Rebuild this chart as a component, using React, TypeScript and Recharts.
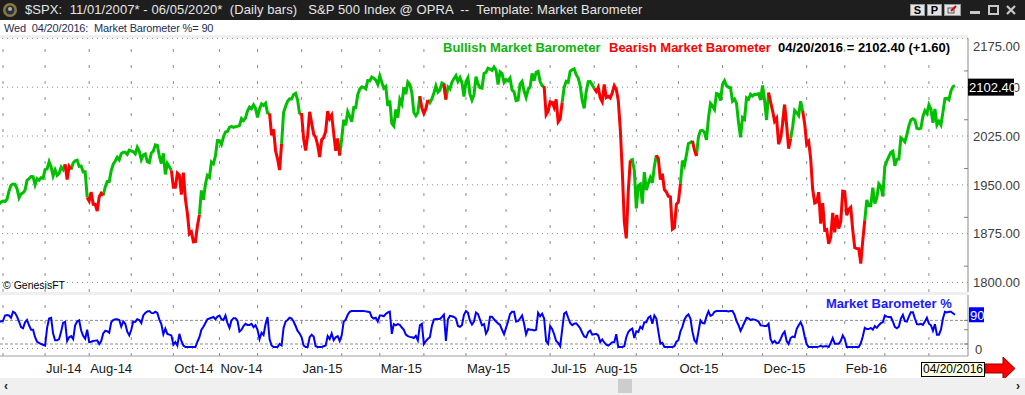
import React from 'react';
import { LineChart, Line, XAxis, YAxis, ReferenceLine } from 'recharts';

// trading months shown on the chart (first one is only the last two days of May 2014)
const months = [
  'May-14', 'Jun-14', 'Jul-14', 'Aug-14', 'Sep-14', 'Oct-14', 'Nov-14', 'Dec-14',
  'Jan-15', 'Feb-15', 'Mar-15', 'Apr-15', 'May-15', 'Jun-15', 'Jul-15', 'Aug-15',
  'Sep-15', 'Oct-15', 'Nov-15', 'Dec-15', 'Jan-16', 'Feb-16', 'Mar-16', 'Apr-16',
];

// $SPX daily closes, one list per month
const closes: number[][] = [
  [1920.03, 1923.57],
  [1924.97, 1924.24, 1927.88, 1940.46, 1949.44, 1951.27, 1950.79, 1943.89, 1930.11, 1936.16, 1937.78, 1941.99, 1956.98, 1959.48, 1962.87, 1962.61, 1949.98, 1959.53, 1957.22, 1960.96, 1960.23],
  [1973.32, 1974.62, 1985.44, 1977.65, 1963.71, 1972.83, 1964.68, 1967.57, 1977.1, 1973.28, 1981.57, 1958.12, 1978.22, 1973.63, 1983.53, 1987.01, 1987.98, 1978.34, 1978.91, 1969.95, 1970.07, 1930.67],
  [1925.15, 1938.99, 1920.21, 1920.24, 1909.57, 1931.59, 1936.92, 1933.75, 1946.72, 1955.18, 1955.06, 1971.74, 1981.6, 1986.51, 1992.37, 1988.4, 1997.92, 2000.02, 2000.12, 1996.74, 2003.37],
  [2002.28, 2000.72, 1997.65, 2007.71, 2001.54, 1988.44, 1995.69, 1997.45, 1985.54, 1984.13, 1998.98, 2001.57, 2011.36, 2010.4, 1994.29, 1982.77, 1998.3, 1965.99, 1982.85, 1977.8, 1972.29],
  [1946.16, 1946.17, 1967.9, 1964.82, 1935.1, 1968.89, 1928.21, 1906.13, 1874.74, 1877.7, 1862.49, 1862.76, 1886.76, 1904.01, 1941.28, 1927.11, 1950.82, 1964.58, 1961.63, 1985.05, 1982.3, 1994.65, 2018.05],
  [2017.81, 2012.1, 2023.57, 2031.21, 2031.92, 2038.26, 2039.68, 2038.25, 2039.33, 2039.82, 2041.32, 2051.8, 2048.72, 2052.75, 2063.5, 2069.41, 2067.03, 2072.83, 2067.56],
  [2053.44, 2066.55, 2074.33, 2071.92, 2075.37, 2060.31, 2059.82, 2026.14, 2035.33, 2002.33, 1989.63, 1972.74, 2012.89, 2061.23, 2070.65, 2078.54, 2082.17, 2081.88, 2088.77, 2090.57, 2080.35, 2058.9],
  [2058.2, 2020.58, 2002.61, 2025.9, 2062.14, 2044.81, 2028.26, 2023.03, 2011.27, 1992.67, 2019.42, 2022.55, 2032.12, 2063.15, 2051.82, 2057.09, 2029.55, 2002.16, 2021.25, 1994.99],
  [2020.85, 2050.03, 2041.51, 2062.52, 2055.47, 2046.74, 2068.59, 2068.53, 2088.48, 2096.99, 2100.34, 2099.68, 2097.45, 2110.3, 2109.66, 2115.48, 2113.86, 2110.74, 2104.5],
  [2117.39, 2107.78, 2098.53, 2101.04, 2071.26, 2079.43, 2044.16, 2040.24, 2065.95, 2053.4, 2081.19, 2074.28, 2099.5, 2089.27, 2108.1, 2104.42, 2091.5, 2061.05, 2056.15, 2061.02, 2086.24, 2067.89],
  [2059.69, 2066.96, 2080.62, 2076.33, 2081.9, 2091.18, 2102.06, 2092.43, 2095.84, 2106.63, 2104.99, 2081.18, 2100.4, 2097.29, 2107.96, 2112.93, 2117.69, 2108.92, 2114.76, 2106.85, 2085.51],
  [2108.29, 2114.49, 2089.46, 2080.15, 2088.0, 2116.1, 2105.33, 2099.12, 2098.48, 2121.1, 2122.73, 2129.2, 2127.83, 2125.85, 2130.82, 2126.06, 2104.2, 2123.48, 2120.79, 2107.39],
  [2111.73, 2109.6, 2114.07, 2095.84, 2092.83, 2079.28, 2080.15, 2105.2, 2108.86, 2094.11, 2084.43, 2096.29, 2100.44, 2121.24, 2109.99, 2122.85, 2124.2, 2108.58, 2102.31, 2101.49, 2057.64, 2063.11],
  [2077.42, 2076.78, 2068.76, 2081.34, 2046.68, 2051.31, 2076.62, 2099.6, 2108.95, 2107.4, 2124.29, 2126.64, 2128.28, 2119.21, 2114.15, 2102.15, 2079.65, 2067.64, 2093.25, 2108.57, 2108.63, 2103.84],
  [2098.04, 2093.32, 2099.84, 2083.56, 2077.57, 2104.18, 2084.07, 2086.05, 2083.39, 2091.54, 2102.44, 2096.92, 2079.61, 2035.73, 1970.89, 1893.21, 1867.61, 1940.51, 1987.66, 1988.87, 1972.18],
  [1913.85, 1948.86, 1951.13, 1921.22, 1969.41, 1942.04, 1952.29, 1961.05, 1953.03, 1978.09, 1995.31, 1990.2, 1958.03, 1966.97, 1942.74, 1938.76, 1932.24, 1931.34, 1881.77, 1884.09, 1920.03],
  [1923.82, 1951.36, 1987.05, 1979.92, 1995.83, 2013.43, 2014.89, 2017.46, 2003.69, 1994.24, 2023.86, 2033.11, 2033.66, 2030.77, 2018.94, 2052.51, 2075.15, 2071.18, 2065.89, 2090.35, 2089.41, 2079.36],
  [2104.05, 2109.79, 2102.31, 2099.93, 2099.2, 2078.58, 2081.72, 2075.0, 2045.97, 2023.04, 2053.19, 2050.44, 2083.58, 2081.24, 2089.17, 2086.59, 2089.14, 2088.87, 2090.11, 2080.41],
  [2102.63, 2079.51, 2049.62, 2091.69, 2077.07, 2063.59, 2047.62, 2052.23, 2012.37, 2021.94, 2043.41, 2073.07, 2041.89, 2005.55, 2021.15, 2038.97, 2064.29, 2060.99, 2056.5, 2078.36, 2063.36, 2043.94],
  [2012.66, 2016.71, 1990.26, 1943.09, 1922.03, 1923.67, 1938.68, 1890.28, 1921.84, 1880.33, 1881.33, 1859.33, 1868.99, 1906.9, 1877.08, 1903.63, 1882.95, 1893.36, 1940.24],
  [1939.38, 1903.03, 1912.53, 1915.45, 1880.05, 1853.44, 1852.21, 1851.86, 1829.08, 1864.78, 1895.58, 1926.82, 1917.83, 1917.78, 1945.5, 1921.27, 1929.8, 1951.7, 1948.05, 1932.23],
  [1978.35, 1986.45, 1993.4, 1999.99, 2001.76, 1979.26, 1989.26, 1989.57, 2022.19, 2019.64, 2015.93, 2027.22, 2040.59, 2049.58, 2051.6, 2049.8, 2036.71, 2035.94, 2037.05, 2055.01, 2063.95, 2059.74],
  [2072.78, 2066.13, 2045.17, 2066.66, 2041.91, 2047.6, 2041.99, 2061.72, 2082.42, 2082.78, 2080.73, 2094.34, 2100.8, 2102.4],
];

// G = bullish barometer, R = bearish barometer (colours the segment ending on that day)
const regimes = [
  'GG',
  'GGGGGGGGGGGGGGGGGGGGG',
  'GGGGGGGGGGGRRRGGGGGGGG',
  'RRRRRRRRGGGGGGGGGGGGG',
  'GGGGGGGGGGGGGGGGGGGGG',
  'RRRRRRRRRRRRRRGGGGGGGGG',
  'GGGGGGGGGGGGGGGGGGG',
  'GGGGGGGRRRRRRGGGGGGGGG',
  'RRRRRRRRRRRRRRRRRRRR',
  'GGGGGGGGGGGGGGGGGGG',
  'GGGGGGGGGGGGGGGGGGGGGR',
  'RRRGGGGGGGGRGGGGGGGGG',
  'GGGGGGGGGGGGGGGGGGGG',
  'GGGGGGGGGGGGGGGGGGGGRR',
  'RRRRRRRGGGGGGGGGGGGGGG',
  'GRRRRRRRRRRRRRRRRRRGG',
  'GGGGGGGGGGGRRRRRRRRRR',
  'RRGGGGGGRRGGGGGGGGGGGG',
  'GGGGGGGGGGGGGGGGGGGG',
  'GGGGRRRRRRRGRRRGGGGGGR',
  'RRRRRRRRRRRRRRRRRRR',
  'RRRRRRRRRRRGGGGGGGGG',
  'GGGGGGGGGGGGGGGGGGGGGG',
  'GGGGGGGGGGGGGG',
];

// Market Barometer % per day
const barometer: number[][] = [
  [72, 72],
  [74, 88, 89, 88, 82, 98, 95, 85, 72, 57, 54, 70, 76, 62, 50, 50, 30, 18, 15, 12, 10],
  [8, 55, 80, 82, 40, 22, 22, 25, 45, 69, 71, 20, 30, 33, 25, 62, 72, 75, 48, 34, 26, 50],
  [17, 18, 20, 21, 22, 12, 20, 40, 47, 46, 42, 70, 76, 78, 78, 76, 58, 72, 66, 45, 35],
  [50, 72, 71, 78, 76, 68, 88, 95, 99, 100, 95, 94, 98, 95, 77, 65, 38, 53, 39, 37, 35],
  [10, 17, 8, 39, 20, 8, 4, 4, 4, 4, 4, 4, 18, 30, 50, 58, 68, 78, 80, 82, 84, 78, 85],
  [88, 78, 76, 88, 68, 55, 75, 81, 81, 74, 45, 50, 60, 66, 63, 63, 66, 57, 62],
  [50, 25, 42, 36, 65, 84, 25, 8, 4, 4, 4, 12, 8, 55, 72, 76, 82, 80, 72, 60, 47, 40],
  [30, 8, 4, 4, 30, 37, 32, 6, 4, 4, 4, 6, 8, 33, 25, 40, 22, 30, 33, 20],
  [35, 72, 77, 90, 98, 100, 100, 100, 100, 100, 100, 100, 99, 98, 97, 84, 80, 82, 72],
  [88, 88, 86, 92, 96, 98, 39, 65, 62, 65, 63, 56, 50, 37, 33, 31, 30, 28, 34, 22, 62, 66],
  [12, 20, 26, 30, 60, 77, 79, 79, 79, 84, 90, 20, 78, 87, 86, 84, 80, 60, 58, 62, 90],
  [100, 95, 74, 64, 72, 96, 92, 77, 62, 65, 40, 50, 85, 85, 78, 72, 67, 63, 50, 38],
  [55, 72, 92, 98, 98, 72, 73, 80, 88, 66, 38, 52, 50, 50, 48, 50, 95, 86, 93, 80, 20, 13],
  [60, 52, 38, 20, 15, 6, 50, 93, 97, 82, 68, 62, 66, 67, 61, 54, 42, 32, 30, 44, 48, 37],
  [38, 39, 35, 17, 24, 16, 10, 8, 12, 17, 17, 38, 4, 4, 4, 6, 30, 44, 50, 53, 28],
  [46, 44, 58, 53, 70, 70, 82, 86, 66, 88, 80, 45, 13, 15, 4, 4, 4, 4, 4, 6, 18],
  [22, 45, 58, 77, 86, 91, 80, 45, 22, 15, 44, 75, 68, 67, 85, 99, 87, 90, 98, 100, 100, 100],
  [100, 100, 100, 99, 100, 100, 90, 73, 62, 47, 58, 70, 82, 80, 76, 78, 77, 75, 72, 62],
  [61, 60, 60, 66, 25, 15, 20, 14, 15, 25, 38, 45, 20, 12, 28, 32, 30, 52, 62, 70, 58, 32],
  [12, 4, 4, 4, 4, 4, 5, 7, 5, 6, 6, 4, 15, 28, 13, 13, 13, 20, 35],
  [25, 4, 4, 4, 4, 4, 4, 4, 14, 32, 55, 52, 52, 55, 50, 60, 55, 62, 68, 70],
  [88, 85, 84, 84, 72, 58, 54, 58, 80, 90, 73, 72, 85, 97, 97, 80, 65, 64, 66, 63, 72, 82],
  [66, 62, 47, 65, 37, 37, 50, 80, 98, 96, 98, 98, 94, 90],
];

const axisLabels = ['Jul-14', 'Aug-14', 'Oct-14', 'Nov-14', 'Jan-15', 'Mar-15', 'May-15', 'Jul-15', 'Aug-15', 'Oct-15', 'Dec-15', 'Feb-16'];
const priceTicks = [1800, 1875, 1950, 2025, 2100, 2175];
const priceMinorTicks = [1825, 1900, 1975, 2050, 2125];
const baroLabelTicks = [0];
const baroMinorTicks = [12, 50, 75];
const baroLevels = [12, 75];
const lastDate = '04/20/2016';
const lastDay = 'Wed';

type Row = { i: number; close: number; baro: number; reg: string; bull: number | null; bear: number | null };

const rows: Row[] = [];
const monthStart: number[] = [];
closes.forEach((list, m) => {
  monthStart.push(rows.length);
  list.forEach((c, d) => {
    rows.push({ i: rows.length, close: c, baro: barometer[m][d], reg: regimes[m][d], bull: null, bear: null });
  });
});
rows.forEach((r, j) => {
  const next = rows[j + 1]?.reg;
  r.bull = r.reg === 'G' || next === 'G' ? r.close : null;
  r.bear = r.reg === 'R' || next === 'R' ? r.close : null;
});
const last = rows[rows.length - 1];
const prev = rows[rows.length - 2];
const gridMonths = monthStart.slice(1);
const labelTicks = monthStart.filter((_, m) => axisLabels.includes(months[m]));

const FONT = '"Liberation Sans", Arial, sans-serif';
const X_DOMAIN: [number, number] = [0.5, 483.5];

const PriceTick = (props: any) => {
  const { x, y, payload } = props;
  const v = payload.value;
  if (v === last.close) {
    return (
      <g>
        <rect x={x - 5} y={y - 7} width={46} height={17} fill="#000" />
        <text x={x - 4} y={y + 6.5} fill="#fff" fontSize={13} fontFamily={FONT}>{v.toFixed(2)}</text>
      </g>
    );
  }
  if (priceMinorTicks.includes(v)) {
    return <line x1={x - 9} x2={x - 5} y1={y} y2={y} stroke="#808080" />;
  }
  const dy = v === priceTicks[priceTicks.length - 1] ? 12.5 : 4.7;
  return (
    <text x={x} y={y + dy} fill="#404040" fontSize={13} fontFamily={FONT}>{v.toFixed(2)}</text>
  );
};

const BaroTick = (props: any) => {
  const { x, y, payload } = props;
  const v = payload.value;
  if (v === last.baro && !baroLabelTicks.includes(v)) {
    return (
      <g>
        <rect x={x - 4} y={y - 7.5} width={15} height={15} fill="#0000ff" />
        <text x={x - 3} y={y + 5} fill="#fff" fontSize={13} fontFamily={FONT}>{v}</text>
      </g>
    );
  }
  if (baroMinorTicks.includes(v)) {
    return <line x1={x - 9} x2={x - 5} y1={y} y2={y} stroke="#808080" />;
  }
  return (
    <text x={x + 2} y={y + 5} fill="#404040" fontSize={13} fontFamily={FONT}>{v}</text>
  );
};

const MonthTick = (props: any) => {
  const { x, y, payload } = props;
  const label = months[monthStart.indexOf(payload.value)];
  return (
    <text x={x + 1} y={y} dy={9} fill="#202020" fontSize={13} fontFamily={FONT} textAnchor="start">{label}</text>
  );
};

const legendStyle: React.CSSProperties = {
  position: 'absolute', fontFamily: FONT, fontWeight: 'bold', fontSize: 13, lineHeight: '15px', whiteSpace: 'pre',
};

export default function App() {
  const change = last.close - prev.close;
  return (
    <div style={{ position: 'relative', width: 1025, height: 395, background: '#fff', overflow: 'hidden', fontFamily: FONT }}>
      <style>{'body{margin:0}'}</style>

      {/* window title bar */}
      <div style={{ position: 'absolute', left: 0, top: 0, width: 1025, height: 20, background: '#1e1e1e' }} />
      <svg style={{ position: 'absolute', left: 2, top: 2 }} width={16} height={16}>
        <circle cx={8} cy={8} r={7} fill="#8a7a3a" />
        <circle cx={8} cy={8} r={4.5} fill="#22305a" />
        <circle cx={8} cy={7} r={2} fill="#c8b060" />
      </svg>
      <div style={{ position: 'absolute', left: 25, top: 2, color: '#e6e6e6', fontSize: 13, lineHeight: '16px', letterSpacing: 0.08, whiteSpace: 'pre' }}>
        {'$SPX:  11/01/2007* - 06/05/2020*  (Daily bars)   S&P 500 Index @ OPRA  --  Template: Market Barometer'}
      </div>
      {['S', 'P'].map((c, k) => (
        <div key={c} style={{ position: 'absolute', left: 910 + k * 17, top: 4, width: 15, height: 12, background: '#e4e4e4', border: '1px solid #9a9a9a', boxSizing: 'border-box', fontSize: 11, fontWeight: 'bold', lineHeight: '11px', textAlign: 'center', color: '#000' }}>{c}</div>
      ))}
      <svg style={{ position: 'absolute', left: 944, top: 4 }} width={17} height={12}>
        <rect x={0.5} y={0.5} width={16} height={11} fill="#e4e4e4" stroke="#9a9a9a" />
        <rect x={4} y={4} width={6} height={5} fill="none" stroke="#555" />
        <path d="M7 7 L12 2" stroke="#e00000" strokeWidth={2} />
      </svg>
      <svg style={{ position: 'absolute', left: 966, top: 2 }} width={56} height={16}>
        <rect x={4} y={9} width={10} height={3} fill="#c8c8c8" />
        <rect x={23} y={4} width={9} height={8} fill="none" stroke="#c8c8c8" strokeWidth={2} />
        <path d="M41 4 L49 12 M49 4 L41 12" stroke="#c8c8c8" strokeWidth={2.2} />
      </svg>

      {/* status line */}
      <div style={{ position: 'absolute', left: 4, top: 21, color: '#1f2d52', fontSize: 11, lineHeight: '14px', letterSpacing: -0.15, whiteSpace: 'pre' }}>
        {`${lastDay}  ${lastDate}:  Market Barometer %= ${last.baro}`}
      </div>
      <div style={{ position: 'absolute', left: 0, top: 35, width: 968, height: 3, background: '#efefef' }} />
      <div style={{ position: 'absolute', left: 0, top: 292, width: 968, height: 3, background: '#efefef' }} />

      {/* price panel */}
      <div style={{ position: 'absolute', left: 0, top: 30 }}>
        <LineChart width={1025} height={262} data={rows} margin={{ top: 8, right: 0, bottom: 0, left: 0 }}>
          <XAxis dataKey="i" type="number" domain={X_DOMAIN} hide allowDataOverflow />
          <YAxis
            orientation="right"
            width={57}
            domain={[1785.3, 2175.6]}
            allowDataOverflow
            ticks={[...priceTicks, ...priceMinorTicks, last.close]}
            interval={0}
            tickSize={0}
            tickMargin={5}
            tickLine={false}
            axisLine={{ stroke: '#8a8a8a' }}
            tick={PriceTick}
          />
          {priceTicks.map((v) => (
            <ReferenceLine key={`h${v}`} y={v} stroke="#8c8c8c" strokeDasharray="1 4" />
          ))}
          {gridMonths.map((i) => (
            <ReferenceLine key={`v${i}`} x={i} stroke="#8c8c8c" strokeDasharray="3 13" />
          ))}
          <Line dataKey="bull" stroke="#00c000" strokeWidth={3} dot={false} activeDot={false} isAnimationActive={false} />
          <Line dataKey="bear" stroke="#ff0000" strokeWidth={3} dot={false} activeDot={false} isAnimationActive={false} />
        </LineChart>
      </div>
      <div style={{ ...legendStyle, left: 443, top: 40, color: '#10b410' }}>Bullish Market Barometer</div>
      <div style={{ ...legendStyle, left: 609, top: 40, color: '#ff0000' }}>Bearish Market Barometer</div>
      <div style={{ ...legendStyle, left: 778, top: 40, color: '#000' }}>
        {`${lastDate} = ${last.close.toFixed(2)} (${change >= 0 ? '+' : ''}${change.toFixed(2)})`}
      </div>
      <div style={{ position: 'absolute', left: 3, top: 279, fontSize: 10.5, color: '#000', lineHeight: '12px' }}>© GenesisFT</div>

      {/* barometer panel */}
      <div style={{ position: 'absolute', left: 0, top: 295 }}>
        <LineChart width={1025} height={83} data={rows} margin={{ top: 0, right: 0, bottom: 0, left: 0 }}>
          <XAxis
            dataKey="i"
            type="number"
            domain={X_DOMAIN}
            allowDataOverflow
            ticks={labelTicks}
            interval={0}
            height={22}
            tickLine={false}
            axisLine={{ stroke: '#a0a0a0' }}
            tick={MonthTick}
          />
          <YAxis
            orientation="right"
            width={57}
            domain={[-20, 142.7]}
            allowDataOverflow
            ticks={[...baroLabelTicks, ...baroMinorTicks, last.baro]}
            interval={0}
            tickSize={0}
            tickMargin={5}
            tickLine={false}
            axisLine={{ stroke: '#8a8a8a' }}
            tick={BaroTick}
          />
          <ReferenceLine y={0} stroke="#8c8c8c" strokeDasharray="1 4" />
          {baroLevels.map((v) => (
            <ReferenceLine key={`b${v}`} y={v} stroke="#8c8c8c" strokeDasharray="3 2" />
          ))}
          {gridMonths.map((i) => (
            <ReferenceLine key={`bv${i}`} x={i} stroke="#8c8c8c" strokeDasharray="3 13" />
          ))}
          <Line dataKey="baro" stroke="#0000ff" strokeWidth={2} dot={false} activeDot={false} isAnimationActive={false} />
        </LineChart>
      </div>
      <div style={{ ...legendStyle, left: 826, top: 296, color: '#1a1aff' }}>Market Barometer %</div>

      {/* last date marker */}
      <div style={{ position: 'absolute', left: 921, top: 362, width: 64, height: 15, background: '#ffffe1', border: '1px solid #000', boxSizing: 'border-box', fontSize: 12, lineHeight: '13px', textAlign: 'center', color: '#000' }}>{lastDate}</div>
      <svg style={{ position: 'absolute', left: 985, top: 356 }} width={34} height={26}>
        <path d="M0 8 L18 8 L18 1 L30 12.5 L18 24 L18 17 L0 17 Z" fill="#ff0000" stroke="#900000" strokeWidth={1} />
      </svg>

      {/* scroll bar */}
      <div style={{ position: 'absolute', left: 0, top: 378, width: 1025, height: 17, background: '#f0f0f0' }} />
      <div style={{ position: 'absolute', left: 618, top: 379, width: 14, height: 14, background: '#cdcdcd' }} />
      <div style={{ position: 'absolute', left: 4, top: 379, fontSize: 12, fontWeight: 'bold', color: '#222' }}>‹</div>
      <div style={{ position: 'absolute', left: 1016, top: 379, fontSize: 12, fontWeight: 'bold', color: '#222' }}>›</div>
    </div>
  );
}
